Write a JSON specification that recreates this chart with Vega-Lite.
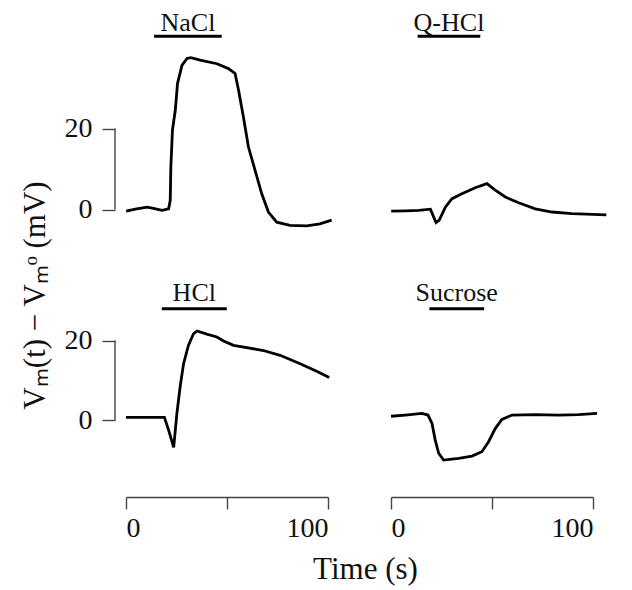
{
  "$schema": "https://vega.github.io/schema/vega-lite/v6.json",
  "padding": {"left": 19, "top": 7, "right": 5, "bottom": 5},
  "background": "white",
  "title": {"text": "Vₘ(t) − Vₘᵒ (mV)", "orient": "left", "anchor": "middle", "offset": 12, "font": "Liberation Serif", "fontSize": 31, "fontWeight": "normal", "color": "#111"},
  "datasets": {
    "traces": [
      {"solution": "NaCl", "time": 0.1, "mV": -0.4},
      {"solution": "NaCl", "time": 4.6, "mV": 0.1},
      {"solution": "NaCl", "time": 10.4, "mV": 0.6},
      {"solution": "NaCl", "time": 13.6, "mV": 0.3},
      {"solution": "NaCl", "time": 17.8, "mV": -0.2},
      {"solution": "NaCl", "time": 21.1, "mV": 0.2},
      {"solution": "NaCl", "time": 21.9, "mV": 2.3},
      {"solution": "NaCl", "time": 22.2, "mV": 10.5},
      {"solution": "NaCl", "time": 23.0, "mV": 19.6},
      {"solution": "NaCl", "time": 24.4, "mV": 24.5},
      {"solution": "NaCl", "time": 25.5, "mV": 31.1},
      {"solution": "NaCl", "time": 27.7, "mV": 35.6},
      {"solution": "NaCl", "time": 30.2, "mV": 37.3},
      {"solution": "NaCl", "time": 32.1, "mV": 37.5},
      {"solution": "NaCl", "time": 36.7, "mV": 36.9},
      {"solution": "NaCl", "time": 45.0, "mV": 36.0},
      {"solution": "NaCl", "time": 50.7, "mV": 34.8},
      {"solution": "NaCl", "time": 54.0, "mV": 33.6},
      {"solution": "NaCl", "time": 55.7, "mV": 29.5},
      {"solution": "NaCl", "time": 58.1, "mV": 22.9},
      {"solution": "NaCl", "time": 60.6, "mV": 15.5},
      {"solution": "NaCl", "time": 63.9, "mV": 9.7},
      {"solution": "NaCl", "time": 67.2, "mV": 3.9},
      {"solution": "NaCl", "time": 70.5, "mV": -0.6},
      {"solution": "NaCl", "time": 74.6, "mV": -3.1},
      {"solution": "NaCl", "time": 81.2, "mV": -3.9},
      {"solution": "NaCl", "time": 89.5, "mV": -4.0},
      {"solution": "NaCl", "time": 96.0, "mV": -3.5},
      {"solution": "NaCl", "time": 101.8, "mV": -2.6},
      {"solution": "Q-HCl", "time": 0.1, "mV": -0.4},
      {"solution": "Q-HCl", "time": 7.1, "mV": -0.3},
      {"solution": "Q-HCl", "time": 13.7, "mV": -0.2},
      {"solution": "Q-HCl", "time": 19.5, "mV": 0.1},
      {"solution": "Q-HCl", "time": 21.1, "mV": -1.8},
      {"solution": "Q-HCl", "time": 22.3, "mV": -3.2},
      {"solution": "Q-HCl", "time": 23.9, "mV": -2.6},
      {"solution": "Q-HCl", "time": 26.9, "mV": 0.6},
      {"solution": "Q-HCl", "time": 30.2, "mV": 2.7},
      {"solution": "Q-HCl", "time": 35.1, "mV": 3.9},
      {"solution": "Q-HCl", "time": 41.7, "mV": 5.4},
      {"solution": "Q-HCl", "time": 47.5, "mV": 6.4},
      {"solution": "Q-HCl", "time": 51.6, "mV": 4.8},
      {"solution": "Q-HCl", "time": 56.6, "mV": 3.1},
      {"solution": "Q-HCl", "time": 63.2, "mV": 1.7},
      {"solution": "Q-HCl", "time": 71.4, "mV": 0.2},
      {"solution": "Q-HCl", "time": 79.7, "mV": -0.6},
      {"solution": "Q-HCl", "time": 89.6, "mV": -1.0},
      {"solution": "Q-HCl", "time": 106.6, "mV": -1.3},
      {"solution": "HCl", "time": 0.0, "mV": 0.7},
      {"solution": "HCl", "time": 19.0, "mV": 0.7},
      {"solution": "HCl", "time": 21.1, "mV": -2.5},
      {"solution": "HCl", "time": 23.6, "mV": -6.8},
      {"solution": "HCl", "time": 25.2, "mV": 1.7},
      {"solution": "HCl", "time": 26.8, "mV": 8.4},
      {"solution": "HCl", "time": 28.5, "mV": 14.2},
      {"solution": "HCl", "time": 30.9, "mV": 18.8},
      {"solution": "HCl", "time": 33.4, "mV": 21.7},
      {"solution": "HCl", "time": 35.2, "mV": 22.4},
      {"solution": "HCl", "time": 40.0, "mV": 21.6},
      {"solution": "HCl", "time": 45.0, "mV": 20.9},
      {"solution": "HCl", "time": 48.3, "mV": 19.9},
      {"solution": "HCl", "time": 53.2, "mV": 18.8},
      {"solution": "HCl", "time": 59.8, "mV": 18.2},
      {"solution": "HCl", "time": 68.0, "mV": 17.5},
      {"solution": "HCl", "time": 76.3, "mV": 16.3},
      {"solution": "HCl", "time": 86.2, "mV": 14.2},
      {"solution": "HCl", "time": 94.4, "mV": 12.3},
      {"solution": "HCl", "time": 100.6, "mV": 10.7},
      {"solution": "Sucrose", "time": 0.0, "mV": 1.0},
      {"solution": "Sucrose", "time": 7.1, "mV": 1.3},
      {"solution": "Sucrose", "time": 15.3, "mV": 1.7},
      {"solution": "Sucrose", "time": 18.3, "mV": 1.3},
      {"solution": "Sucrose", "time": 20.3, "mV": -0.8},
      {"solution": "Sucrose", "time": 21.9, "mV": -5.0},
      {"solution": "Sucrose", "time": 23.6, "mV": -8.3},
      {"solution": "Sucrose", "time": 26.0, "mV": -10.0},
      {"solution": "Sucrose", "time": 33.5, "mV": -9.6},
      {"solution": "Sucrose", "time": 40.1, "mV": -9.0},
      {"solution": "Sucrose", "time": 45.0, "mV": -7.9},
      {"solution": "Sucrose", "time": 48.3, "mV": -5.4},
      {"solution": "Sucrose", "time": 51.6, "mV": -2.1},
      {"solution": "Sucrose", "time": 54.9, "mV": 0.2},
      {"solution": "Sucrose", "time": 59.9, "mV": 1.3},
      {"solution": "Sucrose", "time": 71.4, "mV": 1.4},
      {"solution": "Sucrose", "time": 83.0, "mV": 1.3},
      {"solution": "Sucrose", "time": 92.9, "mV": 1.4},
      {"solution": "Sucrose", "time": 102.0, "mV": 1.7}
    ],
    "stimuli": [
      {"solution": "NaCl", "onset": 13.9, "offset": 47.4},
      {"solution": "Q-HCl", "onset": 13.2, "offset": 44.2},
      {"solution": "HCl", "onset": 17.7, "offset": 49.9},
      {"solution": "Sucrose", "onset": 19.0, "offset": 46.1}
    ]
  },
  "config": {
    "view": {"stroke": null},
    "font": "Liberation Serif",
    "axis": {
      "labelFont": "Liberation Serif",
      "titleFont": "Liberation Serif",
      "labelFontSize": 28,
      "titleFontSize": 31,
      "labelColor": "#111",
      "titleColor": "#111",
      "titleFontWeight": "normal",
      "grid": false,
      "tickColor": "#444",
      "domainColor": "#444",
      "tickWidth": 1.4,
      "domainWidth": 1.4
    }
  },
  "vconcat": [
    {
      "hconcat": [
        {
          "width": 202, "height": 235,
          "layer": [
            {
              "data": {"name": "traces"},
              "transform": [{"filter": "datum.solution == 'NaCl'"}],
              "mark": {"type": "line", "color": "black", "strokeWidth": 2.8},
              "encoding": {
                "x": {"field": "time", "type": "quantitative", "scale": {"domain": [0, 100], "nice": false}, "axis": null},
                "y": {"field": "mV", "type": "quantitative", "scale": {"domain": [-8, 50], "nice": false, "zero": false},
                  "axis": {"values": [0, 20], "domain": false, "tickSize": 13, "offset": 11, "labelPadding": 10, "title": null}}
              }
            },
            {
              "data": {"name": "stimuli"},
              "transform": [{"filter": "datum.solution == 'NaCl'"}],
              "mark": {"type": "rule", "color": "black", "strokeWidth": 3},
              "encoding": {
                "x": {"field": "onset", "type": "quantitative"},
                "x2": {"field": "offset"},
                "y": {"datum": 42.8}
              }
            },
            {
              "data": {"name": "stimuli"},
              "transform": [{"filter": "datum.solution == 'NaCl'"}, {"fold": ["onset", "offset"], "as": ["edge", "t"]}],
              "mark": {"type": "text", "font": "Liberation Serif", "fontSize": 26, "color": "#111", "align": "center", "baseline": "alphabetic"},
              "encoding": {
                "x": {"field": "t", "aggregate": "mean", "type": "quantitative"},
                "y": {"datum": 44.2},
                "text": {"field": "solution"}
              }
            },
            {
              "data": {"name": "stimuli"},
              "transform": [{"filter": "datum.solution == 'NaCl'"}],
              "mark": {"type": "rule", "color": "#444", "strokeWidth": 1.4},
              "encoding": {
                "x": {"datum": -5.45},
                "y": {"datum": 0},
                "y2": {"datum": 20}
              }
            }
          ]
        },
        {
          "width": 202, "height": 235,
          "layer": [
            {
              "data": {"name": "traces"},
              "transform": [{"filter": "datum.solution == 'Q-HCl'"}],
              "mark": {"type": "line", "color": "black", "strokeWidth": 2.8},
              "encoding": {
                "x": {"field": "time", "type": "quantitative", "scale": {"domain": [0, 100], "nice": false}, "axis": null},
                "y": {"field": "mV", "type": "quantitative", "scale": {"domain": [-8, 50], "nice": false, "zero": false}, "axis": null}
              }
            },
            {
              "data": {"name": "stimuli"},
              "transform": [{"filter": "datum.solution == 'Q-HCl'"}],
              "mark": {"type": "rule", "color": "black", "strokeWidth": 3},
              "encoding": {
                "x": {"field": "onset", "type": "quantitative"},
                "x2": {"field": "offset"},
                "y": {"datum": 42.8}
              }
            },
            {
              "data": {"name": "stimuli"},
              "transform": [{"filter": "datum.solution == 'Q-HCl'"}, {"fold": ["onset", "offset"], "as": ["edge", "t"]}],
              "mark": {"type": "text", "font": "Liberation Serif", "fontSize": 26, "color": "#111", "align": "center", "baseline": "alphabetic"},
              "encoding": {
                "x": {"field": "t", "aggregate": "mean", "type": "quantitative"},
                "y": {"datum": 44.2},
                "text": {"field": "solution"}
              }
            }
          ]
        }
      ],
      "spacing": 63,
      "bounds": "flush",
      "resolve": {"scale": {"x": "independent", "y": "independent"}}
    },
    {
      "hconcat": [
        {
          "width": 202, "height": 223,
          "layer": [
            {
              "data": {"name": "traces"},
              "transform": [{"filter": "datum.solution == 'HCl'"}],
              "mark": {"type": "line", "color": "black", "strokeWidth": 2.8},
              "encoding": {
                "x": {"field": "time", "type": "quantitative", "scale": {"domain": [0, 100], "nice": false},
                  "axis": {"values": [0, 50, 100], "labelExpr": "datum.value == 50 ? '' : datum.label", "offset": 29, "tickSize": 12, "labelPadding": 5, "title": "Time (s)", "titleX": 239, "titleY": 57}},
                "y": {"field": "mV", "type": "quantitative", "scale": {"domain": [-12, 44], "nice": false, "zero": false},
                  "axis": {"values": [0, 20], "domain": false, "tickSize": 13, "offset": 11, "labelPadding": 10, "title": null}}
              }
            },
            {
              "data": {"name": "stimuli"},
              "transform": [{"filter": "datum.solution == 'HCl'"}],
              "mark": {"type": "rule", "color": "black", "strokeWidth": 3},
              "encoding": {
                "x": {"field": "onset", "type": "quantitative"},
                "x2": {"field": "offset"},
                "y": {"datum": 28.0}
              }
            },
            {
              "data": {"name": "stimuli"},
              "transform": [{"filter": "datum.solution == 'HCl'"}, {"fold": ["onset", "offset"], "as": ["edge", "t"]}],
              "mark": {"type": "text", "font": "Liberation Serif", "fontSize": 26, "color": "#111", "align": "center", "baseline": "alphabetic"},
              "encoding": {
                "x": {"field": "t", "aggregate": "mean", "type": "quantitative"},
                "y": {"datum": 30.0},
                "text": {"field": "solution"}
              }
            },
            {
              "data": {"name": "stimuli"},
              "transform": [{"filter": "datum.solution == 'HCl'"}],
              "mark": {"type": "rule", "color": "#444", "strokeWidth": 1.4},
              "encoding": {
                "x": {"datum": -5.45},
                "y": {"datum": 0},
                "y2": {"datum": 20}
              }
            }
          ]
        },
        {
          "width": 202, "height": 223,
          "layer": [
            {
              "data": {"name": "traces"},
              "transform": [{"filter": "datum.solution == 'Sucrose'"}],
              "mark": {"type": "line", "color": "black", "strokeWidth": 2.8},
              "encoding": {
                "x": {"field": "time", "type": "quantitative", "scale": {"domain": [0, 100], "nice": false},
                  "axis": {"values": [0, 50, 100], "labelExpr": "datum.value == 50 ? '' : datum.label", "offset": 29, "tickSize": 12, "labelPadding": 5, "title": null}},
                "y": {"field": "mV", "type": "quantitative", "scale": {"domain": [-12, 44], "nice": false, "zero": false}, "axis": null}
              }
            },
            {
              "data": {"name": "stimuli"},
              "transform": [{"filter": "datum.solution == 'Sucrose'"}],
              "mark": {"type": "rule", "color": "black", "strokeWidth": 3},
              "encoding": {
                "x": {"field": "onset", "type": "quantitative"},
                "x2": {"field": "offset"},
                "y": {"datum": 28.0}
              }
            },
            {
              "data": {"name": "stimuli"},
              "transform": [{"filter": "datum.solution == 'Sucrose'"}, {"fold": ["onset", "offset"], "as": ["edge", "t"]}],
              "mark": {"type": "text", "font": "Liberation Serif", "fontSize": 26, "color": "#111", "align": "center", "baseline": "alphabetic"},
              "encoding": {
                "x": {"field": "t", "aggregate": "mean", "type": "quantitative"},
                "y": {"datum": 30.0},
                "text": {"field": "solution"}
              }
            }
          ]
        }
      ],
      "spacing": 63,
      "bounds": "flush",
      "resolve": {"scale": {"x": "independent", "y": "independent"}}
    }
  ],
  "spacing": 3,
  "resolve": {"scale": {"x": "independent", "y": "independent"}}
}
